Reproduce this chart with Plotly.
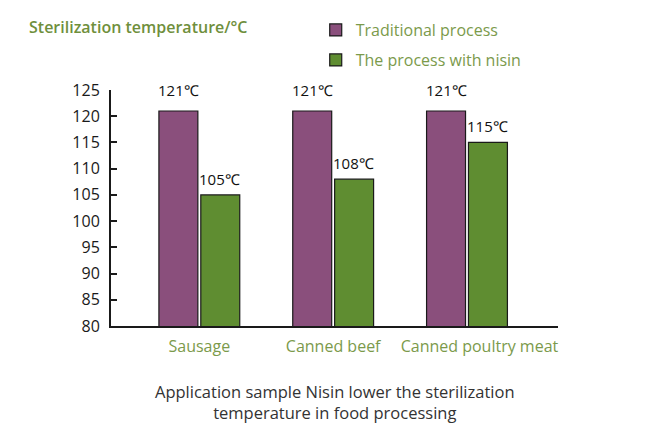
import plotly.graph_objects as go

categories = ["Sausage", "Canned beef", "Canned poultry meat"]
traditional = [121, 121, 121]
with_nisin = [105, 108, 115]
series_names = ["Traditional process", "The process with nisin"]
y_ticks = list(range(80, 126, 5))

purple = "#8a4f7c"
green = "#5f8d31"
label_green = "#7b9a4b"

fig = go.Figure()
fig.add_trace(go.Bar(x=categories, y=traditional, name=series_names[0],
                     marker=dict(color=purple, line=dict(color="#1a1a1a", width=1.2)),
                     legend="legend", showlegend=True))
fig.add_trace(go.Bar(x=categories, y=with_nisin, name=series_names[1],
                     marker=dict(color=green, line=dict(color="#1a1a1a", width=1.2)),
                     legend="legend2", showlegend=True))

# value labels above the bars
for i, c in enumerate(categories):
    fig.add_annotation(x=i, y=traditional[i], text=f"{traditional[i]}℃", xshift=-20.5,
                       yshift=21, showarrow=False, font=dict(size=15, color="#111"))
    fig.add_annotation(x=i, y=with_nisin[i], text=f"{with_nisin[i]}℃", xshift=20.5,
                       yshift=16, showarrow=False, font=dict(size=15, color="#111"))

fig.add_annotation(xref="paper", yref="paper", x=0.501, y=-0.322, yanchor="middle",
                   text="Application sample Nisin lower the sterilization<br>temperature in food processing",
                   showarrow=False, font=dict(size=16.5, color="#333333"))

# last label sits a little right of its bars in the original
tick_text = categories[:-1] + ["&nbsp;" * 6 + categories[-1]]

# page body adds an 8px offset, so the figure is 8px smaller on each side
fig.update_layout(
    width=643, height=426,
    margin=dict(l=103, r=93, t=82, b=108, autoexpand=False),
    paper_bgcolor="white", plot_bgcolor="white",
    font=dict(family="Open Sans, sans-serif"),
    barmode="group", bargap=0.374, bargroupgap=0.07,
    showlegend=True,
    title=dict(text="Sterilization temperature/°C", x=0.0327, xanchor="left",
               y=0.955, yanchor="middle",
               font=dict(size=16, color="#6f8f3c", weight=600)),
    legend=dict(x=0.458, y=1.326, xanchor="left", yanchor="top",
                font=dict(size=16, color=label_green), bgcolor="rgba(0,0,0,0)"),
    legend2=dict(x=0.458, y=1.199, xanchor="left", yanchor="top",
                 font=dict(size=16, color=label_green), bgcolor="rgba(0,0,0,0)"),
)
fig.update_xaxes(range=[-0.66, 2.68], showline=True, linecolor="#1a1a1a", linewidth=2,
                 ticks="", showgrid=False, ticklabelstandoff=5, tickangle=0,
                 tickvals=categories, ticktext=tick_text,
                 tickfont=dict(size=16, color=label_green))
fig.update_yaxes(range=[80, 125], tickvals=y_ticks, showline=True, linecolor="#1a1a1a",
                 linewidth=2, ticks="inside", ticklen=6, tickwidth=2, tickcolor="#1a1a1a",
                 showgrid=False, zeroline=False, ticklabelstandoff=6,
                 tickfont=dict(size=16, color="#1a1a1a"))

fig.write_html("out.html")
